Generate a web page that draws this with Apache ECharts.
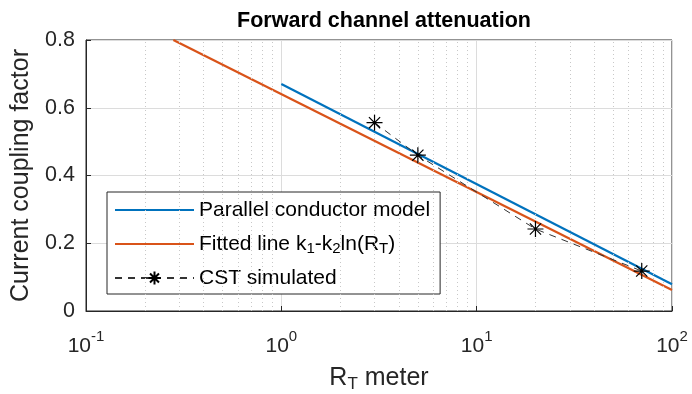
<!DOCTYPE html>
<html>
<head>
<meta charset="utf-8">
<script src="https://cdn.jsdelivr.net/npm/echarts@6/dist/echarts.min.js"></script>
<style>
  html, body { margin: 0; padding: 0; background: #fff; }
  #chart { width: 692px; height: 394px; }
</style>
</head>
<body>
<div id="chart"></div>
<script>
// 平行导体模型（两端点，对数坐标下为直线）
const parallelX = [1, 100];
const parallelY = [0.670, 0.079];
// 拟合直线 k1 - k2 ln(RT)
const fittedX = [0.28, 100];
const fittedY = [0.80, 0.062];
// CST 仿真点
const cstX = [3, 5, 20, 70];
const cstY = [0.556, 0.460, 0.242, 0.118];
// 刻度
const yTicks = [0, 0.2, 0.4, 0.6, 0.8];
const minorX = [0.2, 0.3, 0.4, 0.5, 0.6, 0.7, 0.8, 0.9, 2, 3, 4, 5, 6, 7, 8, 9, 20, 30, 40, 50, 60, 70, 80, 90];

const font = 'Liberation Sans, Arial, sans-serif';
const starPath = 'path://M0,-10L0,10M-10,0L10,0M-7,-7L7,7M-7,7L7,-7';
const hideSymbol = { color: 'rgba(0,0,0,0)', borderWidth: 0 };

const toPairs = (xs, ys) => xs.map((x, i) => [x, ys[i]]);

let option = {
    animation: false,
    title: {
        text: 'Forward channel attenuation',
        left: 379,
        top: 5,
        textAlign: 'center',
        textStyle: { fontFamily: font, fontSize: 21.5, fontWeight: 'bold', color: '#000' }
    },
    grid: {
        left: 86, right: 20, top: 40, bottom: 83,
        outerBoundsMode: 'none',
        containLabel: false,
        show: true,
        borderColor: '#262626',
        borderWidth: 1
    },
    legend: {
        orient: 'vertical',
        left: 107,
        top: 192,
        backgroundColor: '#fff',
        borderColor: '#262626',
        borderWidth: 1,
        padding: [6, 10, 4, 7],
        itemGap: 10,
        itemWidth: 79,
        itemHeight: 16,
        data: [
            { name: 'Parallel conductor model', itemStyle: hideSymbol },
            { name: 'Fitted line', itemStyle: hideSymbol },
            { name: 'CST simulated' }
        ],
        formatter: function (name) {
            if (name === 'Fitted line') {
                return 'Fitted line k{sub|1}-k{sub|2}ln(R{sub|T})';
            }
            return name;
        },
        textStyle: {
            fontFamily: font, fontSize: 21, color: '#000', lineHeight: 24,
            rich: {
                sub: { fontFamily: font, fontSize: 15, verticalAlign: 'bottom', lineHeight: 15 }
            }
        }
    },
    xAxis: {
        type: 'log',
        min: 0.1,
        max: 100,
        logBase: 10,
        name: 'R{sub|T} meter',
        nameLocation: 'middle',
        nameGap: 52,
        nameTextStyle: {
            fontFamily: font, fontSize: 25, color: '#262626', lineHeight: 30,
            rich: {
                sub: { fontFamily: font, fontSize: 17, color: '#262626', verticalAlign: 'bottom', lineHeight: 17 }
            }
        },
        axisLine: { show: true, lineStyle: { color: '#262626' } },
        axisTick: { show: true, inside: true, length: 5, lineStyle: { color: '#262626' } },
        axisLabel: {
            margin: 18,
            formatter: function (v) {
                return '{b|10}{s|' + Math.round(Math.log10(v)) + '}';
            },
            rich: {
                b: { fontFamily: font, fontSize: 21, color: '#262626', lineHeight: 28, verticalAlign: 'bottom' },
                s: { fontFamily: font, fontSize: 15, color: '#262626', lineHeight: 15, verticalAlign: 'top' }
            }
        },
        splitLine: { show: true, lineStyle: { color: '#dcdcdc', width: 1 } }
    },
    yAxis: {
        type: 'value',
        min: 0,
        max: 0.8,
        interval: 0.2,
        name: 'Current coupling factor',
        nameLocation: 'middle',
        nameGap: 52,
        nameTextStyle: { fontFamily: font, fontSize: 25, color: '#262626' },
        axisLine: { show: true, lineStyle: { color: '#262626' } },
        axisTick: { show: true, inside: true, length: 5, lineStyle: { color: '#262626' } },
        axisLabel: {
            margin: 11,
            fontFamily: font, fontSize: 21.5, color: '#262626',
            formatter: function (v) {
                return yTicks.indexOf(+v.toFixed(1)) >= 0 ? String(+v.toFixed(1)) : '';
            }
        },
        splitLine: { show: true, lineStyle: { color: '#dcdcdc', width: 1 } }
    },
    series: [
        {
            name: 'minor grid',
            type: 'line',
            data: [],
            silent: true,
            markLine: {
                silent: true,
                symbol: 'none',
                label: { show: false },
                lineStyle: { color: '#c8c8c8', type: [1, 3], width: 1 },
                data: minorX.map(v => ({ xAxis: v }))
            }
        },
        {
            name: 'Parallel conductor model',
            type: 'line',
            data: toPairs(parallelX, parallelY),
            showSymbol: false,
            symbol: 'none',
            lineStyle: { color: '#0072BD', width: 2.2 },
            itemStyle: { color: '#0072BD' },
            z: 3
        },
        {
            name: 'Fitted line',
            type: 'line',
            data: toPairs(fittedX, fittedY),
            showSymbol: false,
            symbol: 'none',
            lineStyle: { color: '#D95319', width: 2.2 },
            itemStyle: { color: '#D95319' },
            z: 4
        },
        {
            name: 'CST simulated',
            type: 'line',
            data: toPairs(cstX, cstY),
            symbol: starPath,
            symbolSize: 16,
            showSymbol: true,
            lineStyle: { color: '#333', width: 1, type: [7, 6] },
            itemStyle: { color: 'rgba(0,0,0,0)', borderColor: '#000', borderWidth: 1.2 },
            z: 5
        }
    ]
};

const chart = echarts.init(document.getElementById('chart'));
chart.setOption(option);
</script>
</body>
</html>
